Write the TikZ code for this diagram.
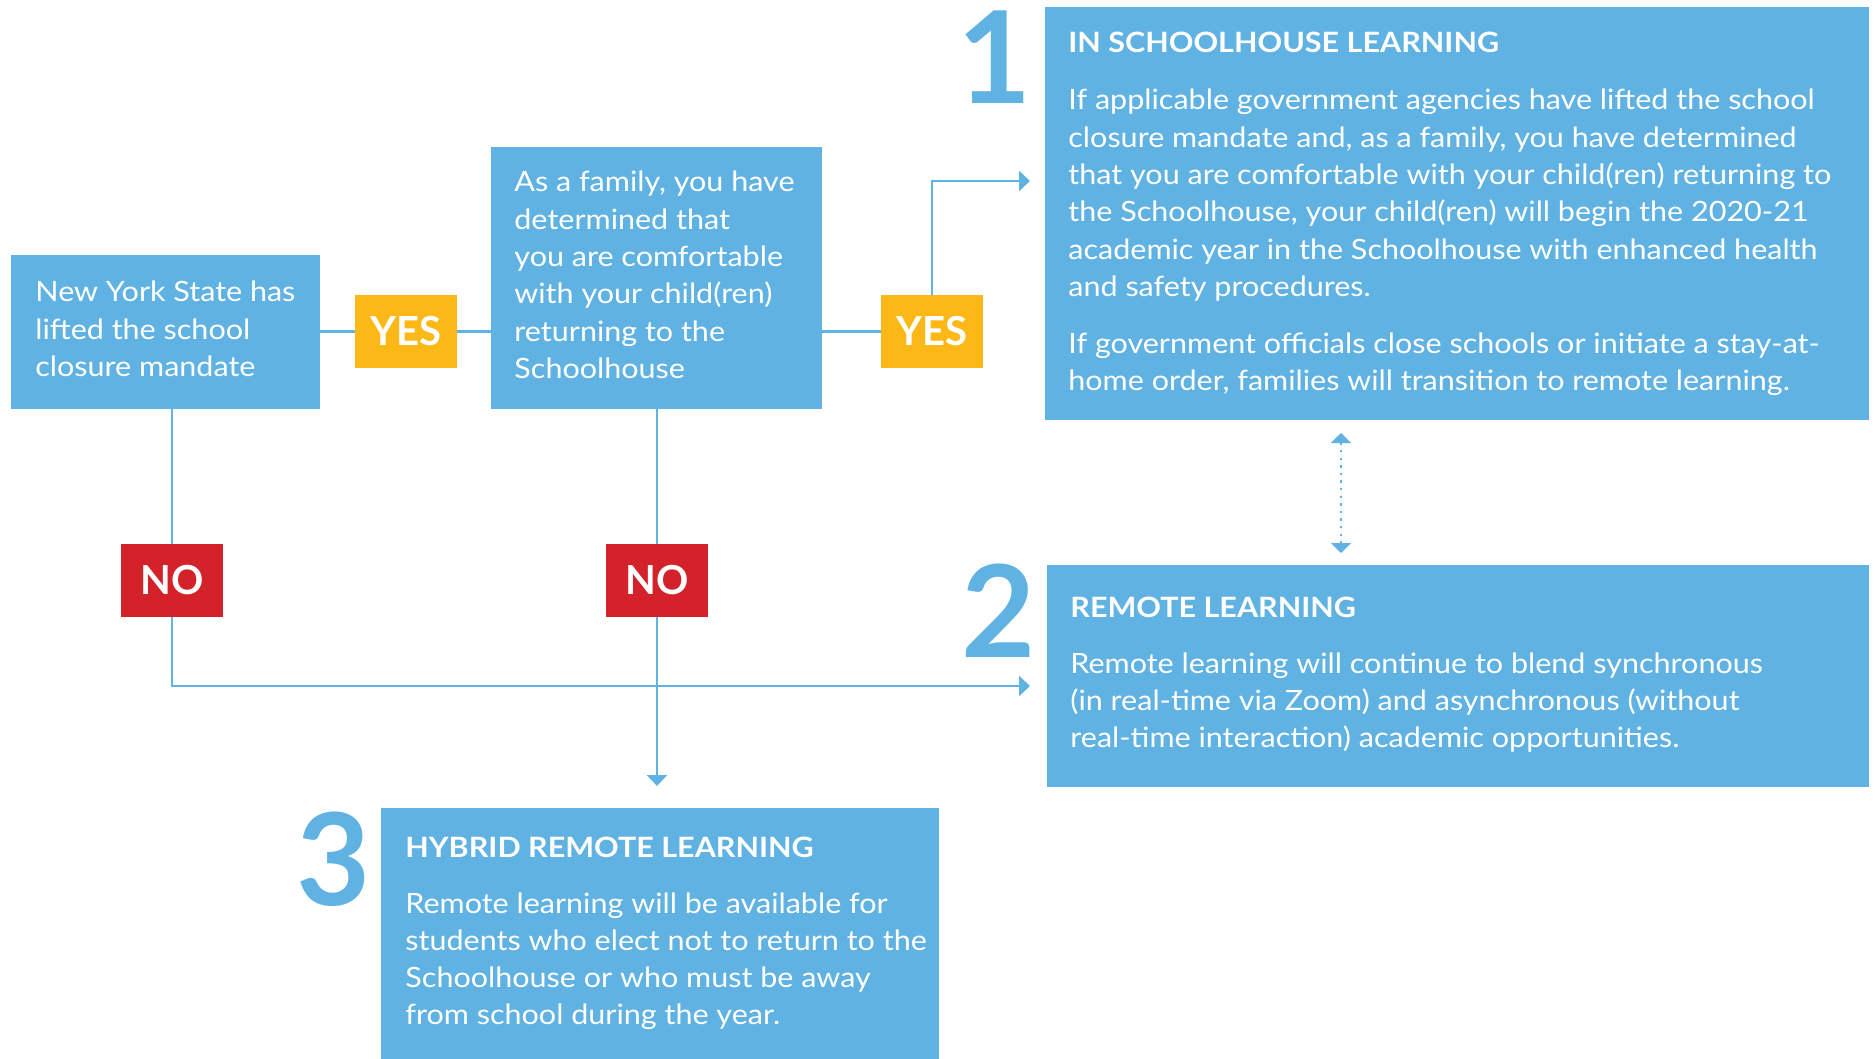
\documentclass[tikz,border=0pt]{standalone}
\usepackage{fontspec}
\setmainfont{Lato}[FakeStretch=1.09]
\newfontfamily\labelfont{Lato}
\usetikzlibrary{arrows.meta,calc}
\definecolor{sky}{RGB}{96,178,227}
\definecolor{sun}{RGB}{251,184,23}
\definecolor{brick}{RGB}{211,34,42}
\tikzset{
  panel/.style={fill=sky, draw=none, inner sep=0pt},
  yesbox/.style={fill=sun, draw=none, inner sep=0pt, minimum width=51pt, minimum height=36.5pt,
    text=white, font=\labelfont\fontsize{20}{20}\selectfont\bfseries},
  nobox/.style={fill=brick, draw=none, inner sep=0pt, minimum width=51pt, minimum height=36.5pt,
    text=white, font=\labelfont\fontsize{20}{20}\selectfont\bfseries},
  body/.style={anchor=base west, inner sep=0pt, text=white, font=\fontsize{14}{18.65}\selectfont},
  head/.style={anchor=base west, inner sep=0pt, text=white, font=\fontsize{14}{17}\selectfont\bfseries},
  digit/.style={anchor=base east, inner sep=0pt, text=sky, font=\labelfont\fontsize{64}{64}\selectfont\bfseries},
  conn/.style={draw=sky, line width=1.35pt},
  tip/.style={-{Triangle[width=10pt,length=5.5pt]}},
  dottip/.style={{Triangle[width=10pt,length=5pt]}-{Triangle[width=10pt,length=5pt]}},
}
\begin{document}
\begin{tikzpicture}[x=0.5pt,y=-0.5pt]
\useasboundingbox (0,0) rectangle (1875,1059);

% panels
\node[panel, minimum width=154.5pt, minimum height=77pt] (boxA) at (165.5,332) {};
\node[panel, minimum width=165.5pt, minimum height=131pt] (boxB) at (656.5,278) {};
\node[panel, minimum width=412pt, minimum height=206.5pt] (box1) at (1457,213.5) {};
\node[panel, minimum width=411pt, minimum height=111pt] (box2) at (1458,676) {};
\node[panel, minimum width=279pt, minimum height=125.5pt] (box3) at (660,933.5) {};

% big digits
\node[digit] (d1) at (1032,104) {1};
\node[digit] (d2) at (1036,657) {2};
\node[digit] (d3) at (371,905) {3};

% label positions
\coordinate (yes1pos) at (406,331.5);
\coordinate (yes2pos) at (932,331.5);
\coordinate (no1pos) at (172,580.5);
\coordinate (no2pos) at (657,580.5);
\coordinate (t1) at (1030,181);
\coordinate (t2) at (1030,686);
\coordinate (t3) at (657,786);
\coordinate (dtop) at (1341,433);
\coordinate (dbot) at (1341,553);

% connectors
\draw[conn] (boxA.east |- yes1pos) -- (boxB.west |- yes1pos);
\draw[conn] (boxB.east |- yes2pos) -- (yes2pos);
\draw[conn, tip] (yes2pos) |- (t1);
\draw[conn, tip] (no1pos |- boxA.south) |- (t2);
\draw[conn, tip] (boxB.south -| t3) -- (t3);
\draw[draw=sky, line width=1.1pt, dash pattern=on 1.2pt off 2.6pt, dottip, fill=sky] (dtop) -- (dbot);

% labels
\node[yesbox] (yes1) at (yes1pos) {YES};
\node[yesbox] (yes2) at (yes2pos) {YES};
\node[nobox] (no1) at (no1pos) {NO};
\node[nobox] (no2) at (no2pos) {NO};

% texts
\node[body] (tA) at (35,302) {\parbox[t]{200pt}{\raggedright New York State has\\lifted the school\\closure mandate}};
\node[body] (tB) at (514,192) {\parbox[t]{200pt}{\raggedright As a family, you have\\determined that\\you are comfortable\\with your child(ren)\\returning to the\\Schoolhouse}};

\node[head] (h1) at (1068,53) {IN SCHOOLHOUSE LEARNING};
\node[body] (b1) at (1068,110) {\parbox[t]{450pt}{\raggedright If applicable government agencies have lifted the school\\closure mandate and, as a family, you have determined\\that you are comfortable with your child(ren) returning to\\the Schoolhouse, your child(ren) will begin the 2020-21\\academic year in the Schoolhouse with enhanced health\\and safety procedures.\\[9.8pt]If government officials close schools or initiate a stay-at-\\home order, families will transition to remote learning.}};

\node[head] (h2) at (1070,617) {REMOTE LEARNING};
\node[body] (b2) at (1070,673) {\parbox[t]{450pt}{\raggedright Remote learning will continue to blend synchronous\\(in real-time via Zoom) and asynchronous (without\\real-time interaction) academic opportunities.}};

\node[head] (h3) at (405,857) {HYBRID REMOTE LEARNING};
\node[body] (b3) at (405,913) {\parbox[t]{300pt}{\raggedright Remote learning will be available for\\students who elect not to return to the\\Schoolhouse or who must be away\\from school during the year.}};
\end{tikzpicture}
\end{document}
